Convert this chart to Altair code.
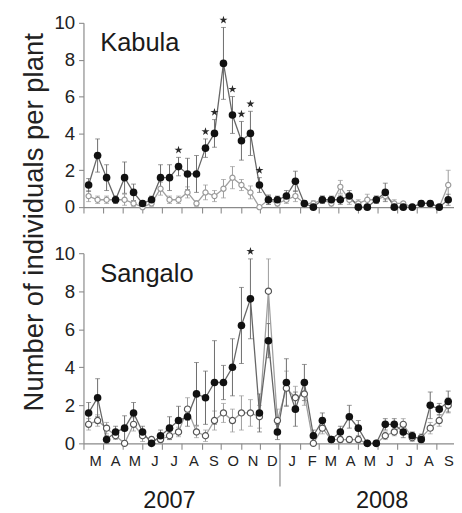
import altair as alt
import pandas as pd

# Biweekly sampling dates (41 samples, March 2007 - September 2008)
dates = pd.date_range("2007-03-09", periods=41, freq="14D").strftime("%Y-%m-%dT00:00:00").tolist()

# Kabula
kab_fill = [1.2, 2.8, 1.6, 0.4, 1.6, 0.8, 0.2, 0.4, 1.6, 1.6, 2.2, 1.8, 1.8, 3.2, 4.0, 7.8, 5.0, 3.6, 4.0, 1.2,
            0.4, 0.4, 0.6, 1.4, 0.2, 0.0, 0.4, 0.4, 0.4, 0.6, 0.0, 0.0, 0.4, 0.8, 0.0, 0.0, 0.0, 0.2, 0.2, 0.0, 0.4]
kab_fill_err = [0.35, 0.9, 0.7, 0.2, 0.85, 0.45, 0.15, 0.2, 0.7, 0.7, 0.5, 0.85, 1.0, 0.5, 0.75, 1.95, 1.0, 1.05, 1.2, 0.4,
                0.25, 0.2, 0.3, 0.55, 0.15, 0.1, 0.2, 0.2, 0.25, 0.3, 0.1, 0.1, 0.2, 0.5, 0.1, 0.1, 0.1, 0.15, 0.15, 0.1, 0.3]
kab_open = [0.6, 0.4, 0.4, 0.4, 0.4, 0.2, 0.0, 0.2, 1.0, 0.4, 0.4, 0.8, 0.2, 0.8, 0.6, 1.0, 1.6, 1.2, 0.8, 0.0,
            0.4, 0.2, 0.4, 0.6, 0.2, 0.2, 0.4, 0.2, 1.1, 0.4, 0.2, 0.4, 0.4, 0.6, 0.2, 0.2, 0.0, 0.2, 0.2, 0.0, 1.2]
kab_open_err = [0.3, 0.2, 0.2, 0.2, 0.3, 0.15, 0.05, 0.15, 0.35, 0.2, 0.2, 0.3, 0.15, 0.4, 0.3, 0.5, 0.6, 0.3, 0.35, 0.05,
                0.25, 0.2, 0.2, 0.3, 0.15, 0.15, 0.2, 0.2, 0.35, 0.25, 0.2, 0.3, 0.2, 0.2, 0.2, 0.1, 0.05, 0.1, 0.1, 0.05, 0.8]
kab_star_idx = [10, 13, 14, 15, 16, 17, 18, 19]

# Sangalo
san_fill = [1.6, 2.4, 0.2, 0.6, 0.8, 1.6, 0.6, 0.0, 0.4, 0.8, 1.2, 1.4, 2.6, 2.4, 3.2, 3.2, 4.0, 6.2, 7.6, 1.6,
            5.4, 0.6, 3.2, 1.8, 3.2, 0.4, 1.2, 0.2, 0.6, 1.4, 0.8, 0.0, 0.0, 1.0, 1.0, 0.6, 0.4, 0.2, 2.0, 1.8, 2.2]
san_fill_err = [0.55, 1.0, 0.2, 0.3, 0.65, 0.55, 0.3, 0.1, 0.3, 0.6, 0.75, 0.5, 1.65, 1.4, 2.2, 0.9, 1.5, 2.0, 2.1, 1.0,
                0.9, 0.4, 1.25, 0.9, 0.95, 0.3, 0.4, 0.15, 0.3, 0.6, 0.4, 0.05, 0.05, 0.3, 0.3, 0.3, 0.2, 0.15, 0.7, 0.3, 0.55]
san_open = [1.0, 1.2, 0.8, 0.4, 0.0, 1.0, 0.4, 0.2, 0.2, 0.4, 0.6, 1.8, 0.6, 0.4, 1.2, 1.6, 1.2, 1.6, 1.6, 1.4,
            8.0, 1.2, 2.9, 2.4, 2.6, 0.0, 0.8, 0.2, 0.2, 0.2, 0.2, 0.0, 0.0, 0.4, 0.6, 1.0, 0.3, 0.3, 0.8, 1.2, 2.0]
san_open_err = [0.3, 0.3, 0.3, 0.2, 0.1, 0.35, 0.3, 0.15, 0.15, 0.2, 0.25, 0.6, 0.3, 0.3, 0.5, 0.5, 0.6, 0.9, 0.7, 0.6,
                1.7, 0.6, 0.9, 0.6, 0.6, 0.1, 0.3, 0.15, 0.15, 0.15, 0.15, 0.05, 0.05, 0.2, 0.2, 0.3, 0.2, 0.2, 0.3, 0.3, 0.4]
san_star_idx = [18]

year_labels = ["2007", "2008"]
year_label_dates = ["2007-07-13T00:00:00", "2008-06-08T00:00:00"]
divider_date = ["2008-01-01T00:00:00"]

FONT = "Liberation Sans"
STAR = ("M0,-1L0.2245,-0.309L0.9511,-0.309L0.3633,0.118L0.5878,0.809L0,0.382"
        "L-0.5878,0.809L-0.3633,0.118L-0.9511,-0.309L-0.2245,-0.309Z")

xscale = alt.Scale(domain=[alt.DateTime(year=2007, month=3, date=1),
                           alt.DateTime(year=2008, month=9, date=28)], nice=False)
yscale = alt.Scale(domain=[0, 10], nice=False)


def series_df(vals, errs):
    return pd.DataFrame({
        "date": dates,
        "v": vals,
        "lo": [max(0.0, a - b) for a, b in zip(vals, errs)],
        "hi": [a + b for a, b in zip(vals, errs)],
    })


def panel(name, fill, ferr, opn, oerr, star_idx, height, bottom, open_stroke, open_size):
    if bottom:
        xaxis = alt.Axis(tickCount={"interval": "month", "step": 1}, format="%b",
                         labelExpr="substring(datum.label, 0, 1)", labelOffset=12,
                         labelFlush=False, labelOverlap=False, labelFontSize=15,
                         labelPadding=5, tickSize=6, title=None, grid=False)
        yaxis = alt.Axis(values=[0, 2, 4, 6, 8, 10], title=None, tickSize=5,
                         labelFontSize=19, labelPadding=4, grid=False)
    else:
        xaxis = alt.Axis(tickCount={"interval": "month", "step": 1}, labels=False,
                         tickSize=6, title=None, grid=False)
        yaxis = alt.Axis(values=[0, 2, 4, 6, 8, 10], title="Number of individuals per plant",
                         titleX=-50, titleY=203, titleAngle=270, titleAlign="center",
                         titleBaseline="middle", titleFontSize=28, titleFontWeight="normal",
                         titleColor="#222", tickSize=5, labelFontSize=19, labelPadding=4, grid=False)
    X = alt.X("date:T", scale=xscale, axis=xaxis)
    Y = alt.Y("v:Q", scale=yscale, axis=yaxis)
    Ylo = alt.Y("lo:Q", scale=yscale, axis=yaxis)

    dff = series_df(fill, ferr)
    dfo = series_df(opn, oerr)
    dfs = dff.iloc[star_idx].copy()
    dfs["v"] = dfs["hi"] + 0.4

    layers = []
    for df, col in ((dfo, "#9a9a9a"), (dff, "#6a6a6a")):
        layers.append(alt.Chart(df).mark_rule(color=col, strokeWidth=1).encode(x=X, y=Ylo, y2="hi:Q"))
        layers.append(alt.Chart(df).mark_tick(orient="horizontal", color=col, size=5, thickness=1)
                      .encode(x=X, y=Ylo))
        layers.append(alt.Chart(df).mark_tick(orient="horizontal", color=col, size=5, thickness=1)
                      .encode(x=X, y=alt.Y("hi:Q", scale=yscale, axis=yaxis)))
    layers.append(alt.Chart(dfo).mark_line(color="#a0a0a0", strokeWidth=1.3).encode(x=X, y=Y))
    layers.append(alt.Chart(dff).mark_line(color="#666666", strokeWidth=1.3).encode(x=X, y=Y))
    layers.append(alt.Chart(dfo).mark_point(shape="circle", fill="white", fillOpacity=1, opacity=1,
                                            stroke=open_stroke, strokeWidth=1.2, size=open_size)
                  .encode(x=X, y=Y))
    layers.append(alt.Chart(dff).mark_point(shape="circle", filled=True, color="#111111", opacity=1, size=60)
                  .encode(x=X, y=Y))
    layers.append(alt.Chart(dfs).mark_point(shape=STAR, filled=True, color="#2a2a2a", opacity=1, size=75)
                  .encode(x=X, y=Y))
    layers.append(alt.Chart(pd.DataFrame({"t": [name]})).mark_text(
        align="left", baseline="alphabetic", fontSize=26, font=FONT, color="#1a1a1a")
        .encode(x=alt.value(17), y=alt.value(29), text="t:N"))
    if bottom:
        layers.append(alt.Chart(pd.DataFrame({"date": divider_date})).mark_rule(color="#888888", strokeWidth=1.2)
                      .encode(x=X, y=alt.value(height), y2=alt.value(height + 44)))
        layers.append(alt.Chart(pd.DataFrame({"date": year_label_dates, "t": year_labels})).mark_text(
            align="center", baseline="alphabetic", fontSize=24, font=FONT, color="#1a1a1a")
            .encode(x=X, y=alt.value(height + 66), text="t:N"))
    return alt.layer(*layers).properties(width=378, height=height)


top = panel("Kabula", kab_fill, kab_fill_err, kab_open, kab_open_err, kab_star_idx, 188, False, "#999999", 28)
bottom = panel("Sangalo", san_fill, san_fill_err, san_open, san_open_err, san_star_idx, 194, True, "#555555", 40)

chart = alt.vconcat(top, bottom, spacing=47, bounds="flush").properties(
    padding={"left": 12, "top": 1, "right": 0, "bottom": 0}
).configure(font=FONT).configure_view(stroke=None).configure_axis(
    domainColor="#8a8a8a", tickColor="#8a8a8a", labelColor="#222222", domainWidth=1.2, tickWidth=1.1,
    labelFont=FONT, titleFont=FONT
)

chart.save("out.html", embed_options={"renderer": "svg", "actions": False})
